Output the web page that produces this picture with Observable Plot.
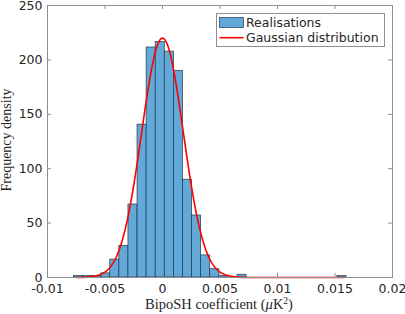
<!DOCTYPE html>
<html><head><meta charset="utf-8">
<script src="https://cdn.jsdelivr.net/npm/d3@7"></script>
<script src="https://cdn.jsdelivr.net/npm/@observablehq/plot@0.6"></script>
<style>
html,body{margin:0;padding:0;background:#fff;}
#chart{position:relative;width:405px;height:314px;}
</style></head><body><div id="chart"></div>
<script>
// Histogram bin edges (31) and frequency densities (30 bins)
const binEdges = [-0.00770,-0.00691,-0.00612,-0.00533,-0.00454,-0.00375,-0.00296,-0.00217,-0.00138,-0.00059,
  0.00020,0.00099,0.00178,0.00257,0.00336,0.00415,0.00494,0.00573,0.00652,0.00731,
  0.00810,0.00889,0.00968,0.01047,0.01126,0.01205,0.01284,0.01363,0.01442,0.01521,0.01600];
const densities = [1.27,1.27,1.27,3.80,16.46,29.11,67.09,140.5,211.4,216.5,
  207.6,189.9,89.9,57.0,20.3,7.6,1.27,0,2.53,0,
  0,0,0,0,0,0,0,0,0,1.27];
// Gaussian curve points
const gaussX = [-0.0075,-0.0065,-0.0055,-0.005,-0.0045,-0.004,-0.0035,-0.003,-0.0025,-0.002,-0.0015,-0.001,-0.0005,0,
  0.0005,0.001,0.0015,0.002,0.0025,0.003,0.0035,0.004,0.0045,0.005,0.0055,0.0065,0.0075,0.009,0.012,0.0158];
const gaussY = [0.04,0.35,2.2,4.85,10.0,19.1,34.0,55.7,84.8,119.5,156.1,188.9,211.8,220,
  211.8,188.9,156.1,119.5,84.8,55.7,34.0,19.1,10.0,4.85,2.2,0.35,0.04,0,0,0];
const xTicks = [-0.01,-0.005,0,0.005,0.01,0.015,0.02];
const xTickLabels = ["-0.01","-0.005","0","0.005","0.01","0.015","0.02"];
const yTicks = [0,50,100,150,200,250];
const yTickLabels = ["0","50","100","150","200","250"];
const legendLabels = ["Realisations","Gaussian distribution"];
const yLabel = "Frequency density";

const bars = densities.map((d,i)=>({x1: binEdges[i], x2: binEdges[i+1], y: d})).filter(d=>d.y>0);
const gauss = gaussX.map((x,i)=>({x, y: gaussY[i]}));

const W=405,H=314,mL=47,mR=13,mT=5,mB=37;
const plotH = H-mT-mB, plotW = W-mL-mR;
const barFill = "#62a8d8", barStroke = "#23394a", axisCol = "#8f8f8f", textCol = "#262626";

const svg = Plot.plot({
  width: W, height: H, marginLeft: mL, marginRight: mR, marginTop: mT, marginBottom: mB,
  style: {fontFamily: "'DejaVu Sans', sans-serif", fontSize: "12.5px", color: textCol, background: "#fff"},
  x: {domain: [-0.01, 0.02]},
  y: {domain: [0, 250]},
  marks: [
    Plot.rectY(bars, {x1: "x1", x2: "x2", y: "y", fill: barFill, stroke: barStroke, strokeWidth: 0.7}),
    Plot.line(gauss, {x: "x", y: "y", stroke: "#ff0000", strokeWidth: 1.6, curve: "monotone-x"}),
    Plot.frame({stroke: axisCol}),
    Plot.tickX(xTicks, {x: d => d, insetTop: plotH - 4, stroke: axisCol}),
    Plot.tickX(xTicks, {x: d => d, insetBottom: plotH - 4, stroke: axisCol}),
    Plot.tickY(yTicks, {y: d => d, insetRight: plotW - 4, stroke: axisCol}),
    Plot.tickY(yTicks, {y: d => d, insetLeft: plotW - 4, stroke: axisCol}),
    Plot.axisX({ticks: xTicks, tickSize: 0, tickPadding: 7, tickFormat: d => xTickLabels[xTicks.indexOf(d)], label: null, fill: textCol}),
    Plot.axisY({ticks: yTicks, tickSize: 0, tickPadding: 5, tickFormat: d => yTickLabels[yTicks.indexOf(d)], label: null, fill: textCol})
  ]
});
document.getElementById("chart").appendChild(svg);

const s = d3.select(svg);
// Axis labels (serif, LaTeX-like)
const xl = s.append("text").attr("x", 219).attr("y", 309).attr("text-anchor", "middle")
  .attr("font-family", "'Liberation Serif', serif").attr("font-size", "14.5px").attr("fill", textCol);
xl.append("tspan").text("BipoSH coefficient (");
xl.append("tspan").attr("font-style", "italic").text("μ");
xl.append("tspan").text("K");
xl.append("tspan").attr("font-size", "9.5px").attr("dy", "-5.5").text("2");
xl.append("tspan").attr("dy", "5.5").text(")");
s.append("text").attr("transform", "translate(11,140) rotate(-90)").attr("text-anchor", "middle")
  .attr("font-family", "'Liberation Serif', serif").attr("font-size", "14px").attr("fill", textCol).text(yLabel);

// Legend
const lg = s.append("g").attr("text-anchor", "start");
lg.append("rect").attr("x", 216.5).attr("y", 13.5).attr("width", 168).attr("height", 33)
  .attr("fill", "#fff").attr("stroke", axisCol);
lg.append("rect").attr("x", 219.5).attr("y", 17.5).attr("width", 24).attr("height", 10)
  .attr("fill", barFill).attr("stroke", barStroke).attr("stroke-width", 0.7);
lg.append("line").attr("x1", 219.5).attr("x2", 243.5).attr("y1", 37.7).attr("y2", 37.7)
  .attr("stroke", "#ff0000").attr("stroke-width", 1.6);
lg.append("text").attr("x", 246).attr("y", 27).attr("text-anchor", "start").attr("font-size", "12.5px").attr("fill", textCol).text(legendLabels[0]);
lg.append("text").attr("x", 246).attr("y", 41.7).attr("text-anchor", "start").attr("font-size", "12.5px").attr("fill", textCol).text(legendLabels[1]);
</script>
</body></html>
